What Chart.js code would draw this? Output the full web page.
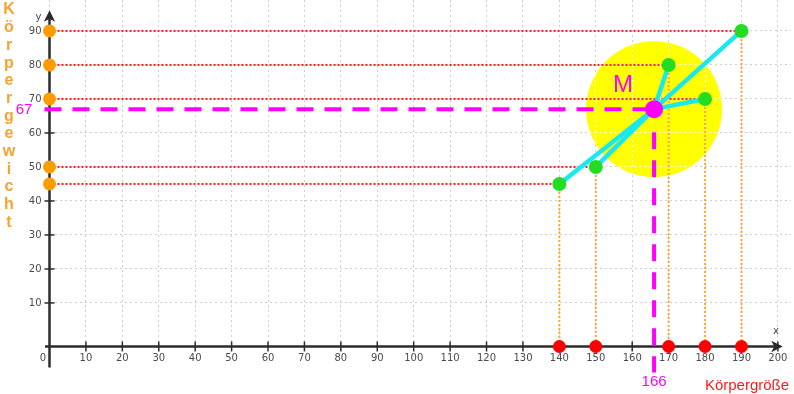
<!DOCTYPE html>
<html><head><meta charset="utf-8">
<script src="https://cdn.jsdelivr.net/npm/chart.js@4/dist/chart.umd.min.js"></script>
<style>html,body{margin:0;padding:0;background:#fff}canvas{display:block}</style>
</head><body>
<canvas id="c" width="794" height="394"></canvas>
<script>
// ---- data ----
const heights = [140, 150, 170, 180, 190];   // Körpergröße (x)
const weights = [45, 50, 80, 70, 90];        // Körpergewicht (y)
const xTicks = [0, 10, 20, 30, 40, 50, 60, 70, 80, 90, 100, 110, 120, 130, 140, 150, 160, 170, 180, 190, 200];
const yTicks = [10, 20, 30, 40, 50, 60, 70, 80, 90];
const xLabel = 'Körpergröße';
const yLabel = 'Körpergewicht';
const meanLabel = 'M';

// ---- scale range ----
const X_MIN = 0, X_MAX = 203.6;
const Y_MIN = -2.8, Y_MAX = 99.1;

const meanX = heights.reduce((a, b) => a + b, 0) / heights.length;
const meanY = weights.reduce((a, b) => a + b, 0) / weights.length;

// ---- styles ----
const ORANGE = '#ff9d00', RED = '#ff1a1a', GREEN = '#22dd22', CYAN = '#18e8f0', MAGENTA = '#ff00ff';
const CIRCLE_R = 68;

const datasets = [];
// top-most first
datasets.push({ data: [{ x: meanX, y: meanY }], backgroundColor: MAGENTA, borderWidth: 0, pointRadius: 9 });
datasets.push({ data: heights.map((h, i) => ({ x: h, y: weights[i] })), backgroundColor: GREEN, borderWidth: 0, pointRadius: 7 });
datasets.push({ data: heights.map(h => ({ x: h, y: Y_MIN })), backgroundColor: '#ff0000', borderWidth: 0, pointRadius: 6.5 });
datasets.push({ data: weights.map(w => ({ x: X_MIN, y: w })), backgroundColor: ORANGE, borderWidth: 0, pointRadius: 6.5 });
heights.forEach((h, i) => datasets.push({
  data: [{ x: meanX, y: meanY }, { x: h, y: weights[i] }], showLine: true, borderColor: CYAN, borderWidth: 4.5, pointRadius: 0
}));
heights.forEach((h, i) => datasets.push({
  data: [{ x: X_MIN, y: weights[i] }, { x: h, y: weights[i] }], showLine: true, borderColor: RED, borderWidth: 2, borderDash: [2, 2], pointRadius: 0
}));
heights.forEach((h, i) => datasets.push({
  data: [{ x: h, y: weights[i] }, { x: h, y: Y_MIN }], showLine: true, borderColor: '#ffa733', borderWidth: 2, borderDash: [2, 2], pointRadius: 0
}));
datasets.forEach(d => { d.clip = false; });

function alignPx(p) { return Math.round(p - 0.5) + 0.5; }

const overlay = {
  id: 'overlay',
  beforeDatasetsDraw(chart) {
    const { ctx, chartArea: a, scales: { x, y } } = chart;
    const mx = x.getPixelForValue(meanX), my = y.getPixelForValue(meanY);
    // yellow disc around M, with white grid over it
    ctx.save();
    ctx.beginPath(); ctx.arc(mx, my, CIRCLE_R, 0, Math.PI * 2);
    ctx.fillStyle = '#ffff00'; ctx.fill();
    ctx.clip();
    ctx.strokeStyle = '#ffffff'; ctx.lineWidth = 1; ctx.setLineDash([2, 3]);
    xTicks.forEach(v => { const px = alignPx(x.getPixelForValue(v)); ctx.beginPath(); ctx.moveTo(px, a.top); ctx.lineTo(px, a.bottom); ctx.stroke(); });
    yTicks.forEach(v => { const py = alignPx(y.getPixelForValue(v)); ctx.beginPath(); ctx.moveTo(a.left, py); ctx.lineTo(a.right, py); ctx.stroke(); });
    ctx.restore();

    // axes
    const ax = x.getPixelForValue(X_MIN), ay = a.bottom;
    ctx.save();
    ctx.strokeStyle = '#2b2b2b'; ctx.fillStyle = '#2b2b2b'; ctx.lineWidth = 2.5;
    ctx.beginPath(); ctx.moveTo(ax - 4.5, ay); ctx.lineTo(a.right - 12, ay); ctx.stroke();
    ctx.beginPath(); ctx.moveTo(ax, ay + 21); ctx.lineTo(ax, a.top + 18); ctx.stroke();
    // arrows
    ctx.lineWidth = 1.5;
    ctx.beginPath(); ctx.moveTo(a.right - 10, ay); ctx.lineTo(a.right - 18, ay - 4); ctx.lineTo(a.right - 16, ay); ctx.lineTo(a.right - 18, ay + 4); ctx.closePath(); ctx.fill(); ctx.stroke();
    ctx.beginPath(); ctx.moveTo(ax, a.top + 12); ctx.lineTo(ax - 4, a.top + 20); ctx.lineTo(ax, a.top + 18); ctx.lineTo(ax + 4, a.top + 20); ctx.closePath(); ctx.fill(); ctx.stroke();
    // tick marks
    ctx.lineWidth = 1.5;
    xTicks.forEach(v => { if (v === 0) return; const px = x.getPixelForValue(v); ctx.beginPath(); ctx.moveTo(px, ay - 5); ctx.lineTo(px, ay + 5); ctx.stroke(); });
    yTicks.forEach(v => { const py = y.getPixelForValue(v); ctx.beginPath(); ctx.moveTo(ax - 5, py); ctx.lineTo(ax + 5, py); ctx.stroke(); });
    ctx.restore();

    // magenta dashed guides to M
    ctx.save();
    ctx.strokeStyle = MAGENTA; ctx.lineWidth = 4; ctx.setLineDash([17, 11]);
    ctx.beginPath(); ctx.moveTo(ax - 5, my); ctx.lineTo(mx, my); ctx.stroke();
    ctx.beginPath(); ctx.moveTo(mx, my + 23); ctx.lineTo(mx, ay + 26); ctx.stroke();
    ctx.restore();
  },
  afterDraw(chart) {
    const { ctx, chartArea: a, scales: { x, y } } = chart;
    const ax = x.getPixelForValue(X_MIN), ay = a.bottom;
    const mx = x.getPixelForValue(meanX), my = y.getPixelForValue(meanY);
    ctx.save();
    // tick labels
    ctx.fillStyle = '#4a4a4a'; ctx.font = '10px "DejaVu Sans"';
    ctx.textAlign = 'center'; ctx.textBaseline = 'middle';
    xTicks.forEach(v => {
      const px = v === 0 ? ax - 6.5 : x.getPixelForValue(v);
      ctx.fillText(String(v), px, ay + 12);
    });
    ctx.textAlign = 'right';
    yTicks.forEach(v => ctx.fillText(String(v), ax - 8, y.getPixelForValue(v)));
    ctx.textAlign = 'center';
    ctx.fillText('x', a.right - 15, ay - 15);
    ctx.fillText('y', ax - 11, a.top + 17);

    // vertical y-label
    ctx.fillStyle = '#f8a232'; ctx.font = 'bold 16px "Liberation Sans"';
    [...yLabel].forEach((ch, i) => ctx.fillText(ch, 9, 10 + i * 17.7));

    // x-label
    ctx.fillStyle = RED; ctx.font = '15px "Liberation Sans"';
    ctx.fillText(xLabel, 747, ay + 39);

    // mean annotations
    ctx.fillStyle = MAGENTA;
    ctx.font = '15px "Liberation Sans"';
    ctx.fillText(String(Math.round(meanX)), mx, ay + 35);
    ctx.fillText(String(Math.round(meanY)), 24, my + 1);
    ctx.font = '24px "Liberation Sans"';
    ctx.fillText(meanLabel, mx - 31, my - 24);
    ctx.restore();
  }
};

new Chart(document.getElementById('c'), {
  type: 'scatter',
  data: { datasets },
  options: {
    responsive: false, animation: false, events: [],
    layout: { autoPadding: false, padding: { left: 49.5, top: 0, right: 3, bottom: 47.5 } },
    plugins: { legend: { display: false }, tooltip: { enabled: false } },
    scales: {
      x: {
        type: 'linear', min: X_MIN, max: X_MAX,
        afterBuildTicks: s => { s.ticks = xTicks.map(v => ({ value: v })); },
        ticks: { display: false },
        grid: { color: '#cfcfcf', lineWidth: 1, drawTicks: false },
        border: { display: false, dash: [2, 3] }
      },
      y: {
        type: 'linear', min: Y_MIN, max: Y_MAX,
        afterBuildTicks: s => { s.ticks = yTicks.map(v => ({ value: v })); },
        ticks: { display: false },
        grid: { color: '#cfcfcf', lineWidth: 1, drawTicks: false },
        border: { display: false, dash: [2, 3] }
      }
    }
  },
  plugins: [overlay]
});
</script>
</body></html>
